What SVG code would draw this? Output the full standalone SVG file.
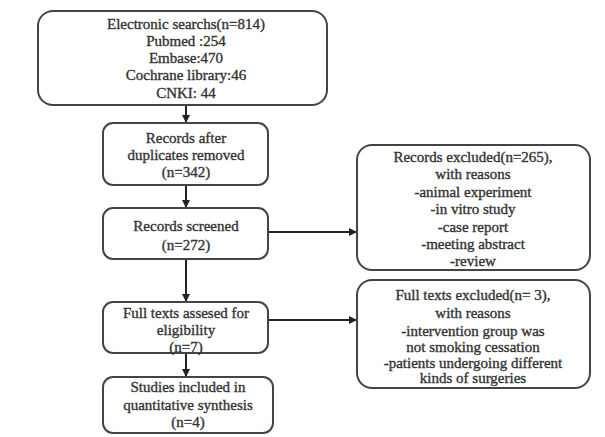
<svg xmlns="http://www.w3.org/2000/svg" width="605" height="437" viewBox="0 0 605 437">
<style>
.b{fill:#fff;stroke:#444;stroke-width:2}
.t{text-anchor:middle}
.c{stroke:#222;stroke-width:2;fill:none;marker-end:url(#a)}
</style>
<defs>
<marker id="a" markerWidth="8" markerHeight="8" refX="7" refY="4" orient="auto" markerUnits="userSpaceOnUse">
<path d="M0,0 L8,4 L0,8 Z" fill="#222"/>
</marker>
</defs>
<rect width="605" height="437" fill="#fff"/>
<g id="connectors">
<line class="c" x1="186" y1="105" x2="186" y2="122"/>
<line class="c" x1="186" y1="185" x2="186" y2="207"/>
<line class="c" x1="186" y1="259" x2="186" y2="301"/>
<line class="c" x1="186" y1="353" x2="186" y2="376"/>
<line class="c" x1="268" y1="232" x2="356" y2="232"/>
<line class="c" x1="268" y1="320" x2="356" y2="320"/>
</g>
<g font-family="Liberation Serif, Times New Roman, serif" font-size="15" fill="#333" stroke="#333" stroke-width="0.35">
<g id="n1">
<rect class="b" x="38" y="11" width="289" height="94" rx="15"/>
<text class="t" x="186" y="29">Electronic searchs(n=814)</text>
<text class="t" x="186" y="46">Pubmed :254</text>
<text class="t" x="186" y="63">Embase:470</text>
<text class="t" x="186" y="80">Cochrane library:46</text>
<text class="t" x="186" y="98">CNKI: 44</text>
</g>
<g id="n2">
<rect class="b" x="103" y="123" width="165" height="62" rx="10"/>
<text class="t" x="186" y="143">Records after</text>
<text class="t" x="186" y="160">duplicates removed</text>
<text class="t" x="186" y="177">(n=342)</text>
</g>
<g id="n3">
<rect class="b" x="103" y="208" width="165" height="51" rx="10"/>
<text class="t" x="186" y="231">Records screened</text>
<text class="t" x="186" y="250">(n=272)</text>
</g>
<g id="n4">
<rect class="b" x="103" y="302" width="165" height="51" rx="10"/>
<text class="t" x="186" y="318">Full texts assesed for</text>
<text class="t" x="186" y="335">eligibility</text>
<text class="t" x="186" y="352">(n=7)</text>
</g>
<g id="n5">
<rect class="b" x="103" y="377" width="170" height="56" rx="10"/>
<text class="t" x="188" y="392">Studies included in</text>
<text class="t" x="188" y="410">quantitative synthesis</text>
<text class="t" x="188" y="427">(n=4)</text>
</g>
<g id="n6">
<rect class="b" x="357" y="145" width="233" height="125" rx="15"/>
<text class="t" x="473" y="162">Records excluded(n=265),</text>
<text class="t" x="473" y="179">with reasons</text>
<text class="t" x="473" y="197">-animal experiment</text>
<text class="t" x="473" y="214">-in vitro study</text>
<text class="t" x="473" y="232">-case report</text>
<text class="t" x="473" y="249">-meeting abstract</text>
<text class="t" x="473" y="266">-review</text>
</g>
<g id="n7">
<rect class="b" x="357" y="280" width="233" height="108" rx="15"/>
<text class="t" x="473" y="300">Full texts excluded(n= 3),</text>
<text class="t" x="473" y="318">with reasons</text>
<text class="t" x="473" y="336">-intervention group was</text>
<text class="t" x="473" y="352">not smoking cessation</text>
<text class="t" x="473" y="368">-patients undergoing different</text>
<text class="t" x="473" y="383">kinds of surgeries</text>
</g>
</g>
</svg>
